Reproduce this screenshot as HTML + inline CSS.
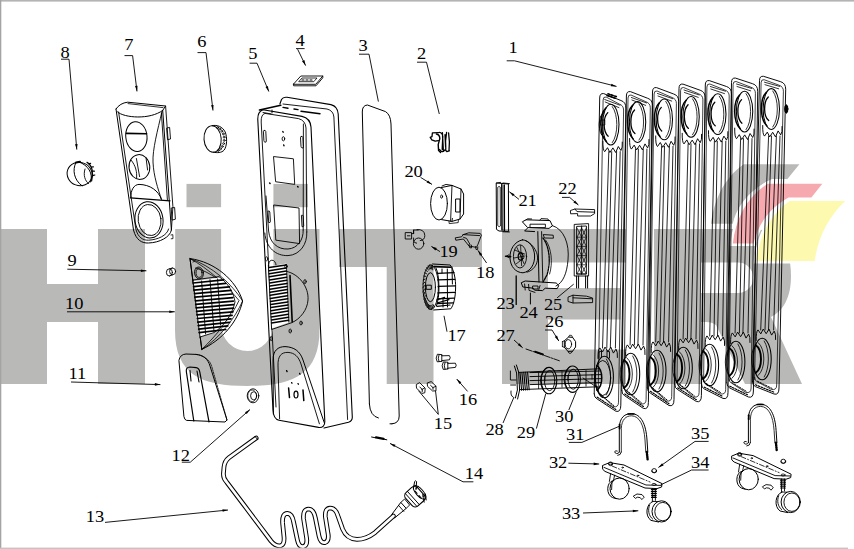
<!DOCTYPE html>
<html><head><meta charset="utf-8"><title>Exploded view</title>
<style>
html,body{margin:0;padding:0;background:#fff;}
body{width:854px;height:549px;overflow:hidden;font-family:"Liberation Serif",serif;}
svg{display:block;}
</style></head><body>
<svg width="854" height="549" viewBox="0 0 854 549">
<rect x="0" y="0" width="854" height="549" fill="#fff"/>
<g id="wm"><path d="M0,229 H47 V284 H98 V229 H145 V384 H98 V322 H47 V384 H0 Z" fill="#b9b9b8"/>
<rect x="186.5" y="183.9" width="34.6" height="23.3" fill="#b9b9b8"/>
<rect x="273.4" y="183.9" width="34.6" height="23.3" fill="#b9b9b8"/>
<path d="M175.2,229 H221.1 V324.85 A26.15,26.15 0 0 0 273.4,324.85 V229 H319.5 V330 C319.5,375 292,386 247.25,386 C202,386 175,375 175,330 Z" fill="#b9b9b8"/>
<path d="M339,229 H482 V267 H433.5 V384 H386.7 V267 H339 Z" fill="#b9b9b8"/>
<path d="M502,229 H626 V262.5 H548 V288 H620.5 V319.5 H548 V349.5 H626 V384 H502 Z" fill="#b9b9b8"/>
<path d="M654,229 H752 C778,229 791,246 791,276 C791,298 783,311 771,317 L802,384 H745 L716,325 Q712,322 706,322 H701 V384 H654 Z M701,262.5 H738 A15.25,15.25 0 0 1 738,293 H701 Z" fill="#b9b9b8" fill-rule="evenodd"/>
<path d="M743.7,164.2 H799.4 L787.4,179 H772 C748,190 736,208 732.8,223.8 H711 C714,200 724,178 743.7,164.2 Z" fill="#b9b9b8"/>
<path d="M767.7,183.8 H822.3 L811.4,197.6 H788.5 C770,208 758,224 753.5,243.5 H732.8 C736,217 748,196 767.7,183.8 Z" fill="#f6aaaf" stroke="#fff" stroke-width="5" paint-order="stroke"/>
<path d="M789.6,200.9 H845.3 C828,217 818,238 814.7,261 H756.4 C759,236 770,215 789.6,200.9 Z" fill="#fdfab0" stroke="#fff" stroke-width="5" paint-order="stroke"/></g>
<g id="art" stroke-linecap="round" stroke-linejoin="round"><path d="M594.1999999999999,393.8 L599.7,98 Q599.7,93 603.7,93.6 L620.9000000000001,100.5 Q625.9000000000001,102.0 625.9000000000001,108.0 L620.8,405.2 Q620.8,412.7 615.8,411.2 L597.1999999999999,399.0 Q594.1999999999999,397.8 594.1999999999999,393.8" fill="none" stroke="#000" stroke-width="0.95" />
<path d="M598.1999999999999,391.8 L603.1,100 Q603.1,96.5 606.1,97 L619.2,104.0 Q623.6,105.5 623.6,110.0 L618.4999999999999,402.2 Q618.4999999999999,407.8 613.0999999999999,406.59999999999997 L601.1999999999999,394.40000000000003 Q598.1999999999999,393.40000000000003 598.1999999999999,389.8" fill="none" stroke="#000" stroke-width="0.75" />
<path d="M597.1999999999999,397.2 L615.8,409.4" fill="none" stroke="#000" stroke-width="1.2" stroke-dasharray="1.6 1.4"/>
<path d="M599.1999999999999,393.6 L613.8,405.59999999999997" fill="none" stroke="#000" stroke-width="1.0" stroke-dasharray="1.6 1.4"/>
<path d="M604.7,99.5 L619.9000000000001,105.2" fill="none" stroke="#000" stroke-width="0.8" />
<path d="M605.2,102 L618.9000000000001,107.6" fill="none" stroke="#000" stroke-width="0.8" />
<ellipse cx="610.8" cy="124.6" rx="8.2" ry="20.4" fill="none" stroke="#000" stroke-width="1.05"/>
<path d="M612.3,106.6 C618.4,114.6 618.4,134.6 612.3,142.6" fill="none" stroke="#000" stroke-width="0.8" />
<path d="M605.8,108.0 C599.1999999999999,114.6 599.1999999999999,134.6 606.4,141.6" fill="none" stroke="#000" stroke-width="1.5" />
<path d="M607.8,112.6 C602.8,117.6 602.8,131.6 608.1999999999999,136.2" fill="none" stroke="#000" stroke-width="1.3" />
<path d="M602.9000000000001,141.1 Q602.7,150.1 604.7,151.7 L607.5000000000001,147.7 L609.9000000000001,152.5 L612.9000000000001,147.9 L615.7,152.5 L618.3000000000001,146.5 L620.9000000000001,150.5 Q622.7,148.1 622.3000000000001,142.1" fill="none" stroke="#000" stroke-width="0.95" />
<ellipse cx="604.4" cy="377.0" rx="9.0" ry="20.8" fill="none" stroke="#000" stroke-width="1.05"/>
<path d="M606.4,359.0 C612.0,368.0 612.0,386.0 606.4,395.0" fill="none" stroke="#000" stroke-width="0.8" />
<path d="M598.0,358.5 Q597.8,349.5 599.8,347.9 L602.6,351.9 L605.0,347.1 L608.0,351.7 L610.8,347.1 L613.4,353.1 L616.0,349.1 Q617.8,351.5 617.4,357.5" fill="none" stroke="#000" stroke-width="0.95" />
<path d="M608.8,151.6 L602.5,348.0" fill="none" stroke="#000" stroke-width="0.85" />
<path d="M611.7,151.6 L606.8,348.0" fill="none" stroke="#000" stroke-width="0.85" />
<path d="M616.6,151.6 L610.3,348.0" fill="none" stroke="#000" stroke-width="0.85" />
<path d="M620.2,151.6 L615.4,348.0" fill="none" stroke="#000" stroke-width="0.85" />
<path d="M621.8,390.59999999999997 L626.4,96 Q626.4,91 630.4,91.6 L647.6,98.25 Q652.6,99.75 652.6,105.75 L648.4,402.4 Q648.4,409.9 643.4,408.4 L624.8,395.79999999999995 Q621.8,394.59999999999997 621.8,390.59999999999997" fill="none" stroke="#000" stroke-width="0.95" />
<path d="M624.0,388.59999999999997 L628.0,98 Q628.0,94.5 631.0,95 L645.9,101.75 Q650.3,103.25 650.3,107.75 L646.0999999999999,399.4 Q646.0999999999999,405.0 640.6999999999999,403.79999999999995 L627.0,391.2 Q624.0,390.2 624.0,386.59999999999997" fill="none" stroke="#000" stroke-width="0.75" />
<path d="M624.8,393.99999999999994 L643.4,406.59999999999997" fill="none" stroke="#000" stroke-width="1.2" stroke-dasharray="1.6 1.4"/>
<path d="M626.8,390.4 L641.4,402.79999999999995" fill="none" stroke="#000" stroke-width="1.0" stroke-dasharray="1.6 1.4"/>
<path d="M631.4,97.5 L646.6,102.95" fill="none" stroke="#000" stroke-width="0.8" />
<path d="M631.9,100 L645.6,105.35" fill="none" stroke="#000" stroke-width="0.8" />
<ellipse cx="637.55" cy="122.0" rx="8.2" ry="20.4" fill="none" stroke="#000" stroke-width="1.05"/>
<path d="M639.05,104.0 C645.15,112.0 645.15,132.0 639.05,140.0" fill="none" stroke="#000" stroke-width="0.8" />
<path d="M632.55,105.4 C625.9499999999999,112.0 625.9499999999999,132.0 633.15,139.0" fill="none" stroke="#000" stroke-width="1.5" />
<path d="M634.55,110.0 C629.55,115.0 629.55,129.0 634.9499999999999,133.6" fill="none" stroke="#000" stroke-width="1.3" />
<path d="M629.6,138.5 Q629.4,147.5 631.4,149.1 L634.2,145.1 L636.6,149.9 L639.6,145.3 L642.4,149.9 L645.0,143.9 L647.6,147.9 Q649.4,145.5 649.0,139.5" fill="none" stroke="#000" stroke-width="0.95" />
<ellipse cx="630.6999999999999" cy="374.0" rx="9.0" ry="20.8" fill="none" stroke="#000" stroke-width="1.05"/>
<path d="M632.6999999999999,356.0 C638.3,365.0 638.3,383.0 632.6999999999999,392.0" fill="none" stroke="#000" stroke-width="0.8" />
<path d="M624.0999999999999,360.0 C631.3,365.0 631.3,383.0 624.0999999999999,388.0" fill="none" stroke="#000" stroke-width="1.9" />
<path d="M624.0999999999999,360.0 C618.6999999999999,365.0 618.6999999999999,383.0 624.0999999999999,388.0" fill="none" stroke="#000" stroke-width="0.8" />
<path d="M626.6999999999999,357.6 C634.3,364.0 634.3,384.0 626.6999999999999,390.4" fill="none" stroke="#000" stroke-width="0.8" />
<path d="M625.6,355.5 Q625.4,346.5 627.4,344.9 L630.2,348.9 L632.6,344.1 L635.6,348.7 L638.4,344.1 L641.0,350.1 L643.6,346.1 Q645.4,348.5 645.0,354.5" fill="none" stroke="#000" stroke-width="0.95" />
<path d="M635.5,149.0 L630.1,345.0" fill="none" stroke="#000" stroke-width="0.85" />
<path d="M638.4,149.0 L634.4,345.0" fill="none" stroke="#000" stroke-width="0.85" />
<path d="M643.3,149.0 L637.9,345.0" fill="none" stroke="#000" stroke-width="0.85" />
<path d="M646.9,149.0 L643.0,345.0" fill="none" stroke="#000" stroke-width="0.85" />
<path d="M647.4,387.9 L652.5,92 Q652.5,87 656.5,87.6 L673.7,94.0 Q678.7,95.5 678.7,101.5 L674.0,399.5 Q674.0,407.0 669,405.5 L650.4,393.09999999999997 Q647.4,391.9 647.4,387.9" fill="none" stroke="#000" stroke-width="0.95" />
<path d="M649.6,385.9 L654.1,94 Q654.1,90.5 657.1,91 L672.0,97.5 Q676.4,99.0 676.4,103.5 L671.6999999999999,396.5 Q671.6999999999999,402.1 666.3,400.9 L652.6,388.5 Q649.6,387.5 649.6,383.9" fill="none" stroke="#000" stroke-width="0.75" />
<path d="M650.4,391.29999999999995 L669,403.7" fill="none" stroke="#000" stroke-width="1.2" stroke-dasharray="1.6 1.4"/>
<path d="M652.4,387.7 L667,399.9" fill="none" stroke="#000" stroke-width="1.0" stroke-dasharray="1.6 1.4"/>
<path d="M657.5,93.5 L672.7,98.7" fill="none" stroke="#000" stroke-width="0.8" />
<path d="M658.0,96 L671.7,101.1" fill="none" stroke="#000" stroke-width="0.8" />
<ellipse cx="664.3" cy="119.39999999999999" rx="8.2" ry="20.4" fill="none" stroke="#000" stroke-width="1.05"/>
<path d="M665.8,101.39999999999999 C671.9,109.39999999999999 671.9,129.39999999999998 665.8,137.39999999999998" fill="none" stroke="#000" stroke-width="0.8" />
<path d="M659.3,102.79999999999998 C652.6999999999999,109.39999999999999 652.6999999999999,129.39999999999998 659.9,136.39999999999998" fill="none" stroke="#000" stroke-width="1.5" />
<path d="M661.3,107.39999999999999 C656.3,112.39999999999999 656.3,126.39999999999999 661.6999999999999,131.0" fill="none" stroke="#000" stroke-width="1.3" />
<path d="M655.7,135.89999999999998 Q655.5,144.89999999999998 657.5,146.49999999999997 L660.3000000000001,142.49999999999997 L662.7,147.29999999999998 L665.7,142.7 L668.5,147.29999999999998 L671.1,141.29999999999998 L673.7,145.29999999999998 Q675.5,142.89999999999998 675.1,136.89999999999998" fill="none" stroke="#000" stroke-width="0.95" />
<ellipse cx="657.0" cy="371.0" rx="9.0" ry="20.8" fill="none" stroke="#000" stroke-width="1.05"/>
<path d="M659.0,353.0 C664.6,362.0 664.6,380.0 659.0,389.0" fill="none" stroke="#000" stroke-width="0.8" />
<path d="M650.4,357.0 C657.6,362.0 657.6,380.0 650.4,385.0" fill="none" stroke="#000" stroke-width="1.9" />
<path d="M650.4,357.0 C645.0,362.0 645.0,380.0 650.4,385.0" fill="none" stroke="#000" stroke-width="0.8" />
<path d="M653.0,354.6 C660.6,361.0 660.6,381.0 653.0,387.4" fill="none" stroke="#000" stroke-width="0.8" />
<path d="M651.2,352.5 Q651.0,343.5 653.0,341.9 L655.8000000000001,345.9 L658.2,341.1 L661.2,345.7 L664.0,341.1 L666.6,347.1 L669.2,343.1 Q671.0,345.5 670.6,351.5" fill="none" stroke="#000" stroke-width="0.95" />
<path d="M661.6,146.4 L655.7,342.0" fill="none" stroke="#000" stroke-width="0.85" />
<path d="M664.5,146.4 L660.0,342.0" fill="none" stroke="#000" stroke-width="0.85" />
<path d="M669.4,146.4 L663.5,342.0" fill="none" stroke="#000" stroke-width="0.85" />
<path d="M673.0,146.4 L668.6,342.0" fill="none" stroke="#000" stroke-width="0.85" />
<path d="M674.8,384.5 L679,88.5 Q679,83.5 683,84.1 L700.2,90.25 Q705.2,91.75 705.2,97.75 L701.4,395.5 Q701.4,403.0 696.4,401.5 L677.8,389.7 Q674.8,388.5 674.8,384.5" fill="none" stroke="#000" stroke-width="0.95" />
<path d="M677.0,382.5 L680.6,90.5 Q680.6,87.0 683.6,87.5 L698.5,93.75 Q702.9,95.25 702.9,99.75 L699.0999999999999,392.5 Q699.0999999999999,398.1 693.6999999999999,396.9 L680.0,385.1 Q677.0,384.1 677.0,380.5" fill="none" stroke="#000" stroke-width="0.75" />
<path d="M677.8,387.9 L696.4,399.7" fill="none" stroke="#000" stroke-width="1.2" stroke-dasharray="1.6 1.4"/>
<path d="M679.8,384.3 L694.4,395.9" fill="none" stroke="#000" stroke-width="1.0" stroke-dasharray="1.6 1.4"/>
<path d="M684,90.0 L699.2,94.95" fill="none" stroke="#000" stroke-width="0.8" />
<path d="M684.5,92.5 L698.2,97.35" fill="none" stroke="#000" stroke-width="0.8" />
<ellipse cx="691.05" cy="116.8" rx="8.2" ry="20.4" fill="none" stroke="#000" stroke-width="1.05"/>
<path d="M692.55,98.8 C698.65,106.8 698.65,126.8 692.55,134.8" fill="none" stroke="#000" stroke-width="0.8" />
<path d="M686.05,100.19999999999999 C679.4499999999999,106.8 679.4499999999999,126.8 686.65,133.8" fill="none" stroke="#000" stroke-width="1.5" />
<path d="M688.05,104.8 C683.05,109.8 683.05,123.8 688.4499999999999,128.4" fill="none" stroke="#000" stroke-width="1.3" />
<path d="M682.2,133.3 Q682.0,142.3 684.0,143.9 L686.8000000000001,139.9 L689.2,144.70000000000002 L692.2,140.10000000000002 L695.0,144.70000000000002 L697.6,138.70000000000002 L700.2,142.70000000000002 Q702.0,140.3 701.6,134.3" fill="none" stroke="#000" stroke-width="0.95" />
<ellipse cx="683.3" cy="368.0" rx="9.0" ry="20.8" fill="none" stroke="#000" stroke-width="1.05"/>
<path d="M685.3,350.0 C690.9,359.0 690.9,377.0 685.3,386.0" fill="none" stroke="#000" stroke-width="0.8" />
<path d="M676.6999999999999,354.0 C683.9,359.0 683.9,377.0 676.6999999999999,382.0" fill="none" stroke="#000" stroke-width="1.9" />
<path d="M676.6999999999999,354.0 C671.3,359.0 671.3,377.0 676.6999999999999,382.0" fill="none" stroke="#000" stroke-width="0.8" />
<path d="M679.3,351.6 C686.9,358.0 686.9,378.0 679.3,384.4" fill="none" stroke="#000" stroke-width="0.8" />
<path d="M678.6,349.5 Q678.4,340.5 680.4,338.9 L683.2,342.9 L685.6,338.1 L688.6,342.7 L691.4,338.1 L694.0,344.1 L696.6,340.1 Q698.4,342.5 698.0,348.5" fill="none" stroke="#000" stroke-width="0.95" />
<path d="M688.1,143.8 L683.1,339.0" fill="none" stroke="#000" stroke-width="0.85" />
<path d="M691.0,143.8 L687.4,339.0" fill="none" stroke="#000" stroke-width="0.85" />
<path d="M695.9,143.8 L690.9,339.0" fill="none" stroke="#000" stroke-width="0.85" />
<path d="M699.5,143.8 L696.0,339.0" fill="none" stroke="#000" stroke-width="0.85" />
<path d="M701.4,383.79999999999995 L705.3,85 Q705.3,80 709.3,80.6 L726.5,86.5 Q731.5,88.0 731.5,94.0 L728.0,392.4 Q728.0,399.9 723,398.4 L704.4,388.99999999999994 Q701.4,387.79999999999995 701.4,383.79999999999995" fill="none" stroke="#000" stroke-width="0.95" />
<path d="M703.6,381.79999999999995 L706.9,87 Q706.9,83.5 709.9,84 L724.8,90.0 Q729.1999999999999,91.5 729.1999999999999,96.0 L725.6999999999999,389.4 Q725.6999999999999,395.0 720.3,393.79999999999995 L706.6,384.4 Q703.6,383.4 703.6,379.79999999999995" fill="none" stroke="#000" stroke-width="0.75" />
<path d="M704.4,387.19999999999993 L723,396.59999999999997" fill="none" stroke="#000" stroke-width="1.2" stroke-dasharray="1.6 1.4"/>
<path d="M706.4,383.59999999999997 L721,392.79999999999995" fill="none" stroke="#000" stroke-width="1.0" stroke-dasharray="1.6 1.4"/>
<path d="M710.3,86.5 L725.5,91.2" fill="none" stroke="#000" stroke-width="0.8" />
<path d="M710.8,89 L724.5,93.6" fill="none" stroke="#000" stroke-width="0.8" />
<ellipse cx="717.8" cy="114.19999999999999" rx="8.2" ry="20.4" fill="none" stroke="#000" stroke-width="1.05"/>
<path d="M719.3,96.19999999999999 C725.4,104.19999999999999 725.4,124.19999999999999 719.3,132.2" fill="none" stroke="#000" stroke-width="0.8" />
<path d="M712.8,97.6 C706.1999999999999,104.19999999999999 706.1999999999999,124.19999999999999 713.4,131.2" fill="none" stroke="#000" stroke-width="1.5" />
<path d="M714.8,102.19999999999999 C709.8,107.19999999999999 709.8,121.19999999999999 715.1999999999999,125.79999999999998" fill="none" stroke="#000" stroke-width="1.3" />
<path d="M708.5,130.7 Q708.3,139.7 710.3,141.29999999999998 L713.1,137.29999999999998 L715.5,142.1 L718.5,137.5 L721.3,142.1 L723.9,136.1 L726.5,140.1 Q728.3,137.7 727.9,131.7" fill="none" stroke="#000" stroke-width="0.95" />
<ellipse cx="709.6" cy="365.0" rx="9.0" ry="20.8" fill="none" stroke="#000" stroke-width="1.05"/>
<path d="M711.6,347.0 C717.2,356.0 717.2,374.0 711.6,383.0" fill="none" stroke="#000" stroke-width="0.8" />
<path d="M703.0,351.0 C710.2,356.0 710.2,374.0 703.0,379.0" fill="none" stroke="#000" stroke-width="1.9" />
<path d="M703.0,351.0 C697.6,356.0 697.6,374.0 703.0,379.0" fill="none" stroke="#000" stroke-width="0.8" />
<path d="M705.6,348.6 C713.2,355.0 713.2,375.0 705.6,381.4" fill="none" stroke="#000" stroke-width="0.8" />
<path d="M705.2,346.5 Q705.0,337.5 707.0,335.9 L709.8000000000001,339.9 L712.2,335.1 L715.2,339.7 L718.0,335.1 L720.6,341.1 L723.2,337.1 Q725.0,339.5 724.6,345.5" fill="none" stroke="#000" stroke-width="0.95" />
<path d="M714.4,141.2 L709.7,336.0" fill="none" stroke="#000" stroke-width="0.85" />
<path d="M717.3,141.2 L714.0,336.0" fill="none" stroke="#000" stroke-width="0.85" />
<path d="M722.2,141.2 L717.5,336.0" fill="none" stroke="#000" stroke-width="0.85" />
<path d="M725.8,141.2 L722.6,336.0" fill="none" stroke="#000" stroke-width="0.85" />
<path d="M726.8,382.8 L731.5,82.5 Q731.5,77.5 735.5,78.1 L752.7,83.75 Q757.7,85.25 757.7,91.25 L753.4,391 Q753.4,398.5 748.4,397 L729.8,388.0 Q726.8,386.8 726.8,382.8" fill="none" stroke="#000" stroke-width="0.95" />
<path d="M729.0,380.8 L733.1,84.5 Q733.1,81.0 736.1,81.5 L751.0,87.25 Q755.4,88.75 755.4,93.25 L751.0999999999999,388 Q751.0999999999999,393.6 745.6999999999999,392.4 L732.0,383.40000000000003 Q729.0,382.40000000000003 729.0,378.8" fill="none" stroke="#000" stroke-width="0.75" />
<path d="M729.8,386.2 L748.4,395.2" fill="none" stroke="#000" stroke-width="1.2" stroke-dasharray="1.6 1.4"/>
<path d="M731.8,382.6 L746.4,391.4" fill="none" stroke="#000" stroke-width="1.0" stroke-dasharray="1.6 1.4"/>
<path d="M736.5,84.0 L751.7,88.45" fill="none" stroke="#000" stroke-width="0.8" />
<path d="M737.0,86.5 L750.7,90.85" fill="none" stroke="#000" stroke-width="0.8" />
<ellipse cx="744.55" cy="111.6" rx="8.2" ry="20.4" fill="none" stroke="#000" stroke-width="1.05"/>
<path d="M746.05,93.6 C752.15,101.6 752.15,121.6 746.05,129.6" fill="none" stroke="#000" stroke-width="0.8" />
<path d="M739.55,95.0 C732.9499999999999,101.6 732.9499999999999,121.6 740.15,128.6" fill="none" stroke="#000" stroke-width="1.5" />
<path d="M741.55,99.6 C736.55,104.6 736.55,118.6 741.9499999999999,123.19999999999999" fill="none" stroke="#000" stroke-width="1.3" />
<path d="M734.7,128.1 Q734.5,137.1 736.5,138.7 L739.3000000000001,134.7 L741.7,139.5 L744.7,134.9 L747.5,139.5 L750.1,133.5 L752.7,137.5 Q754.5,135.1 754.1,129.1" fill="none" stroke="#000" stroke-width="0.95" />
<ellipse cx="735.9" cy="362.0" rx="9.0" ry="20.8" fill="none" stroke="#000" stroke-width="1.05"/>
<path d="M737.9,344.0 C743.5,353.0 743.5,371.0 737.9,380.0" fill="none" stroke="#000" stroke-width="0.8" />
<path d="M729.3,348.0 C736.5,353.0 736.5,371.0 729.3,376.0" fill="none" stroke="#000" stroke-width="1.9" />
<path d="M729.3,348.0 C723.9,353.0 723.9,371.0 729.3,376.0" fill="none" stroke="#000" stroke-width="0.8" />
<path d="M731.9,345.6 C739.5,352.0 739.5,372.0 731.9,378.4" fill="none" stroke="#000" stroke-width="0.8" />
<path d="M730.6,343.5 Q730.4,334.5 732.4,332.9 L735.2,336.9 L737.6,332.1 L740.6,336.7 L743.4,332.1 L746.0,338.1 L748.6,334.1 Q750.4,336.5 750.0,342.5" fill="none" stroke="#000" stroke-width="0.95" />
<path d="M740.6,138.6 L735.1,333.0" fill="none" stroke="#000" stroke-width="0.85" />
<path d="M743.5,138.6 L739.4,333.0" fill="none" stroke="#000" stroke-width="0.85" />
<path d="M748.4,138.6 L742.9,333.0" fill="none" stroke="#000" stroke-width="0.85" />
<path d="M752.0,138.6 L748.0,333.0" fill="none" stroke="#000" stroke-width="0.85" />
<path d="M752.4,381.4 L759.5,80.7 Q759.5,75.7 763.5,76.3 L780.7,81.7 Q785.7,83.2 785.7,89.2 L779.0,388 Q779.0,395.5 774,394 L755.4,386.59999999999997 Q752.4,385.4 752.4,381.4" fill="none" stroke="#000" stroke-width="0.95" />
<path d="M754.6,379.4 L761.1,82.7 Q761.1,79.2 764.1,79.7 L779.0,85.2 Q783.4,86.7 783.4,91.2 L776.6999999999999,385 Q776.6999999999999,390.6 771.3,389.4 L757.6,382.0 Q754.6,381.0 754.6,377.4" fill="none" stroke="#000" stroke-width="0.75" />
<path d="M755.4,384.79999999999995 L774,392.2" fill="none" stroke="#000" stroke-width="1.2" stroke-dasharray="1.6 1.4"/>
<path d="M757.4,381.2 L772,388.4" fill="none" stroke="#000" stroke-width="1.0" stroke-dasharray="1.6 1.4"/>
<path d="M764.5,82.2 L779.7,86.4" fill="none" stroke="#000" stroke-width="0.8" />
<path d="M765.0,84.7 L778.7,88.8" fill="none" stroke="#000" stroke-width="0.8" />
<ellipse cx="771.3" cy="109.0" rx="8.2" ry="20.4" fill="none" stroke="#000" stroke-width="1.05"/>
<path d="M772.8,91.0 C778.9,99.0 778.9,119.0 772.8,127.0" fill="none" stroke="#000" stroke-width="0.8" />
<path d="M766.3,92.4 C759.6999999999999,99.0 759.6999999999999,119.0 766.9,126.0" fill="none" stroke="#000" stroke-width="1.5" />
<path d="M768.3,97.0 C763.3,102.0 763.3,116.0 768.6999999999999,120.6" fill="none" stroke="#000" stroke-width="1.3" />
<path d="M762.7,125.5 Q762.5,134.5 764.5,136.1 L767.3000000000001,132.1 L769.7,136.9 L772.7,132.3 L775.5,136.9 L778.1,130.9 L780.7,134.9 Q782.5,132.5 782.1,126.5" fill="none" stroke="#000" stroke-width="0.95" />
<ellipse cx="762.2" cy="359.0" rx="9.0" ry="20.8" fill="none" stroke="#000" stroke-width="1.05"/>
<path d="M764.2,341.0 C769.8000000000001,350.0 769.8000000000001,368.0 764.2,377.0" fill="none" stroke="#000" stroke-width="0.8" />
<path d="M755.6,345.0 C762.8000000000001,350.0 762.8000000000001,368.0 755.6,373.0" fill="none" stroke="#000" stroke-width="1.9" />
<path d="M755.6,345.0 C750.2,350.0 750.2,368.0 755.6,373.0" fill="none" stroke="#000" stroke-width="0.8" />
<path d="M758.2,342.6 C765.8000000000001,349.0 765.8000000000001,369.0 758.2,375.4" fill="none" stroke="#000" stroke-width="0.8" />
<path d="M756.2,340.5 Q756.0,331.5 758.0,329.9 L760.8000000000001,333.9 L763.2,329.1 L766.2,333.7 L769.0,329.1 L771.6,335.1 L774.2,331.1 Q776.0,333.5 775.6,339.5" fill="none" stroke="#000" stroke-width="0.95" />
<path d="M768.6,136.0 L760.7,330.0" fill="none" stroke="#000" stroke-width="0.85" />
<path d="M771.5,136.0 L765.0,330.0" fill="none" stroke="#000" stroke-width="0.85" />
<path d="M776.4,136.0 L768.5,330.0" fill="none" stroke="#000" stroke-width="0.85" />
<path d="M780.0,136.0 L773.6,330.0" fill="none" stroke="#000" stroke-width="0.85" />
<ellipse cx="786.3" cy="109" rx="1.6" ry="4.2" fill="#000" stroke="#000" stroke-width="1"/>
<path d="M603.6,113 C597.6,115 597.6,134 603.6,137" fill="none" stroke="#000" stroke-width="1.0" />
<path d="M600.8,120 h4 v5 h-4 z" fill="none" stroke="#000" stroke-width="0.8" />
<path d="M607,95.5 l9,3 M608,93.8 l9,3" fill="none" stroke="#000" stroke-width="1.6" stroke-dasharray="2 1.4"/>
<path d="M599,352 v6 M601.5,351 v6 M607,351 v6 M609.5,352 v6 M599,352 l2.5,-1 M607,351 l2.5,1" fill="none" stroke="#000" stroke-width="0.9" />
<path d="M273,410 L257.8,120 Q257.4,111.8 263,109.8 L302,116.4 Q310.4,118.4 311,127 L324.8,421 Q325,428 318.6,427.4 L279,420.2 Q273.4,419 273,410 Z" fill="none" stroke="#000" stroke-width="1.1" />
<path d="M276,407 L261.2,122 Q260.9,114.5 265,113.4 L298.5,118.6 Q305.5,120.5 306,128 L306.8,232" fill="none" stroke="#000" stroke-width="0.9" />
<path d="M303.4,124 L303.2,230" fill="none" stroke="#000" stroke-width="0.9" />
<path d="M279.9,104 L281.5,99.5 Q283,96.8 287,97.3 L330.9,104.6 Q337.8,106.5 338.2,114 L352.3,417 Q352.4,421 348.5,422.2 L324,428" fill="none" stroke="#000" stroke-width="1.1" />
<path d="M283,104 L327,109 Q333.4,110.6 333.9,117 L347.6,419.5" fill="none" stroke="#000" stroke-width="0.9" />
<path d="M259.5,110 L280.8,105.2" fill="none" stroke="#000" stroke-width="1.6" />
<path d="M283,107.4 l5,0.8 M294,109 l4,0.6 M301,111.3 l19,2.4" fill="none" stroke="#000" stroke-width="1.4" />
<path d="M263,112.5 l8,1.4 M272,110 l0,3" fill="none" stroke="#000" stroke-width="0.9" />
<path d="M264.2,130.5 q1.4,-0.6 1.6,1 l0.5,9.5 q0,1.6 -1.4,1.2 q-0.9,-0.4 -1,-1.6 l-0.5,-9 q0,-0.9 0.8,-1.1 z" fill="none" stroke="#000" stroke-width="0.9" />
<path d="M301.2,136.5 q1.5,-0.6 1.7,1 l0.5,9.3 q0,1.6 -1.4,1.2 q-0.9,-0.4 -1,-1.6 l-0.5,-8.8 q0,-0.9 0.7,-1.1 z" fill="none" stroke="#000" stroke-width="0.9" />
<ellipse cx="283.4" cy="138.8" rx="1.3" ry="2.1" fill="none" stroke="#000" stroke-width="0.9"/>
<path d="M282.8,131.6 l0.4,0.6 M283.7,145 l0.3,0.8" fill="none" stroke="#000" stroke-width="1.4" />
<path d="M273.9,156.6 L293.4,158.8 L294.7,184.4 L276,181.8 Z" fill="none" stroke="#000" stroke-width="0.9" />
<path d="M269.6,183 l0.5,0.5 M297.6,186.5 l0.5,0.5" fill="none" stroke="#000" stroke-width="1.4" />
<path d="M274,205 L299,208 L299.6,243.6 L276.2,240.2 Z" fill="none" stroke="#000" stroke-width="0.9" />
<path d="M264.8,233 C266,248 276,256 288,255.6 C300,255 307.5,244 306.8,232" fill="none" stroke="#000" stroke-width="0.9" />
<path d="M266,196 L268.6,231 C269.8,243 277.8,249.6 288,249 C297.5,248.4 303.6,240 303.2,230" fill="none" stroke="#000" stroke-width="0.9" />
<path d="M268.3,211 q1.4,-0.4 1.5,1 l0.6,9.6 q0,1.4 -1.3,1 z M301.8,215.2 q1.3,-0.4 1.4,1 l0.5,9.6 q0,1.3 -1.3,1 z" fill="none" stroke="#000" stroke-width="0.9" />
<path d="M268.6,267 q-0.4,-6.5 3.2,-6.8 q3.8,0 4.4,5.6" fill="none" stroke="#000" stroke-width="0.9" />
<path d="M268.8,266.4 L286.2,263.6 L288.6,322.4 L271.6,328.6 Z" fill="#fff"/>
<path d="M269.0,267.6 l17,-2.7" fill="none" stroke="#000" stroke-width="1.55" />
<path d="M269.1,270.7 l17,-2.7" fill="none" stroke="#000" stroke-width="1.55" />
<path d="M269.3,273.8 l17,-2.7" fill="none" stroke="#000" stroke-width="1.55" />
<path d="M269.4,276.8 l17,-2.7" fill="none" stroke="#000" stroke-width="1.55" />
<path d="M269.6,279.9 l17,-2.7" fill="none" stroke="#000" stroke-width="1.55" />
<path d="M269.7,283.0 l17,-2.7" fill="none" stroke="#000" stroke-width="1.55" />
<path d="M269.9,286.1 l17,-2.7" fill="none" stroke="#000" stroke-width="1.55" />
<path d="M270.0,289.2 l17,-2.7" fill="none" stroke="#000" stroke-width="1.55" />
<path d="M270.2,292.2 l17,-2.7" fill="none" stroke="#000" stroke-width="1.55" />
<path d="M270.3,295.3 l17,-2.7" fill="none" stroke="#000" stroke-width="1.55" />
<path d="M270.4,298.4 l17,-2.7" fill="none" stroke="#000" stroke-width="1.55" />
<path d="M270.6,301.5 l17,-2.7" fill="none" stroke="#000" stroke-width="1.55" />
<path d="M270.7,304.6 l17,-2.7" fill="none" stroke="#000" stroke-width="1.55" />
<path d="M270.9,307.6 l17,-2.7" fill="none" stroke="#000" stroke-width="1.55" />
<path d="M271.0,310.7 l17,-2.7" fill="none" stroke="#000" stroke-width="1.55" />
<path d="M271.2,313.8 l17,-2.7" fill="none" stroke="#000" stroke-width="1.55" />
<path d="M271.3,316.9 l17,-2.7" fill="none" stroke="#000" stroke-width="1.55" />
<path d="M271.5,320.0 l17,-2.7" fill="none" stroke="#000" stroke-width="1.55" />
<path d="M271.6,323.0 l17,-2.7" fill="none" stroke="#000" stroke-width="1.55" />
<path d="M268.4,265.4 L271.6,329.5 L292,322.6" fill="none" stroke="#000" stroke-width="0.9" />
<path d="M286.4,264.6 L288.8,322" fill="none" stroke="#000" stroke-width="0.8" />
<path d="M290,275.6 L292.2,321.6" fill="none" stroke="#000" stroke-width="1.6" />
<path d="M286.6,271.4 C299,274 309,287 308,300 C307.4,310 300,319 292.4,322.4" fill="none" stroke="#000" stroke-width="0.9" />
<ellipse cx="286" cy="266.4" rx="1.2" ry="2.0" fill="none" stroke="#000" stroke-width="0.9"/>
<ellipse cx="305" cy="281.6" rx="1.2" ry="2.0" fill="none" stroke="#000" stroke-width="0.9"/>
<ellipse cx="266.6" cy="258.8" rx="1.2" ry="2.0" fill="none" stroke="#000" stroke-width="0.9"/>
<ellipse cx="271.2" cy="338.6" rx="1.2" ry="2.0" fill="none" stroke="#000" stroke-width="0.9"/>
<ellipse cx="290.2" cy="331" rx="1.2" ry="2.0" fill="none" stroke="#000" stroke-width="0.9"/>
<ellipse cx="301" cy="323" rx="1.2" ry="2.0" fill="none" stroke="#000" stroke-width="0.9"/>
<path d="M273.4,414 L273,360 C273,350.5 278,346.6 285,346.6 C294,347 300,351 303,360 L324.2,422.5" fill="none" stroke="#000" stroke-width="1.0" />
<path d="M279.6,419 L278,366 C277.6,355.6 281.6,352.2 288,352.4 C294.6,352.8 298.6,356.6 301,364 L319.4,423.8" fill="none" stroke="#000" stroke-width="0.9" />
<path d="M288.6,388 l0.9,9.6 M303,390 l0.8,10.6" fill="none" stroke="#000" stroke-width="1.5" />
<ellipse cx="296" cy="394.6" rx="2.0" ry="3.4" fill="none" stroke="#000" stroke-width="1.2"/>
<path d="M286.6,370.6 l0.5,1 M299.6,373.4 l0.4,0.8 M291.6,382.6 l0.4,0.6 M298,383.6 l0.4,0.6" fill="none" stroke="#000" stroke-width="1.3" />
<path d="M369.4,404 L362.3,112 Q362.2,105.4 367.4,105 L385.5,111.6 Q390.6,114.6 391,124 L399.2,416 Q399.2,423.4 392,423.8" fill="none" stroke="#000" stroke-width="1.0" />
<path d="M369.4,404 Q370,416 378.4,418" fill="none" stroke="#000" stroke-width="1.0" />
<path d="M390,423.8 l2,0" fill="none" stroke="#000" stroke-width="1.0" />
<path d="M293.6,84 L300.8,76 L322.8,76 L316,84 Z" fill="none" stroke="#000" stroke-width="0.9" />
<path d="M293.6,84 v1.8 h22.4 l6.8,-8 v-1.8" fill="none" stroke="#000" stroke-width="0.9" />
<path d="M299,81.4 l3,-3.4 h15 l-3,3.4 z" fill="none" stroke="#000" stroke-width="0.8" />
<path d="M302,80 h2 M306,80 h2 M310,80 h2" fill="none" stroke="#000" stroke-width="1.2" />
<ellipse cx="212.6" cy="139" rx="8.6" ry="13.3" fill="none" stroke="#000" stroke-width="1.0" transform="rotate(-4 212.6 139)"/>
<path d="M212.4,125.6 C217,124.6 222.6,126.6 225.2,132 C227.4,137.6 227,146 224.2,150 C221.6,153 217,153 213.6,152.2" fill="none" stroke="#000" stroke-width="1.0" />
<ellipse cx="217.6" cy="127.6" rx="0.9" ry="1.0" fill="none" stroke="#000" stroke-width="0.8"/>
<ellipse cx="219.9" cy="129.0" rx="0.9" ry="1.0" fill="none" stroke="#000" stroke-width="0.8"/>
<ellipse cx="221.8" cy="131.2" rx="0.9" ry="1.0" fill="none" stroke="#000" stroke-width="0.8"/>
<ellipse cx="223.3" cy="133.9" rx="0.9" ry="1.0" fill="none" stroke="#000" stroke-width="0.8"/>
<ellipse cx="224.1" cy="137.1" rx="0.9" ry="1.0" fill="none" stroke="#000" stroke-width="0.8"/>
<ellipse cx="224.2" cy="140.4" rx="0.9" ry="1.0" fill="none" stroke="#000" stroke-width="0.8"/>
<ellipse cx="223.6" cy="143.6" rx="0.9" ry="1.0" fill="none" stroke="#000" stroke-width="0.8"/>
<ellipse cx="222.3" cy="146.5" rx="0.9" ry="1.0" fill="none" stroke="#000" stroke-width="0.8"/>
<ellipse cx="220.5" cy="148.8" rx="0.9" ry="1.0" fill="none" stroke="#000" stroke-width="0.8"/>
<ellipse cx="218.3" cy="150.5" rx="0.9" ry="1.0" fill="none" stroke="#000" stroke-width="0.8"/>
<ellipse cx="79.6" cy="174" rx="12.6" ry="11.6" fill="none" stroke="#000" stroke-width="1.0" transform="rotate(20 79.6 174)"/>
<path d="M76,162.4 C72,170 74,180 82,185.8" fill="none" stroke="#000" stroke-width="1.0" />
<path d="M79,162 C88,165 93.6,173.6 90.6,182" fill="none" stroke="#000" stroke-width="1.0" />
<path d="M85,169 C83,175 85,181 88.6,183.6" fill="none" stroke="#000" stroke-width="0.9" />
<path d="M88.4,163.8 l2.2,-0.4 M91,167 l2.4,-0.2 M92.4,171.2 l2,0 M92.8,175.6 l2,-0.6 M87,162.4 C92,165 94,173 91.6,181" fill="none" stroke="#000" stroke-width="1.2" />
<path d="M76,162.6 l4,-0.8" fill="none" stroke="#000" stroke-width="2.0" />
<path d="M116,109 Q120,103 127.7,102.2 L165.6,106 L162.7,110.4" fill="none" stroke="#000" stroke-width="1.0" />
<path d="M128,103.6 L163,107.6" fill="none" stroke="#000" stroke-width="0.8" />
<path d="M117.5,111.9 C124,118 150,120 162.7,110.4" fill="none" stroke="#000" stroke-width="1.0" />
<path d="M116,109 L133.5,230 C136,240 142,243.4 148.4,243 C160,242.6 170,237 171.4,230 L162.7,110.4" fill="none" stroke="#000" stroke-width="1.0" />
<path d="M118.6,112 L135.8,229 C138,237.6 143,240.4 148.6,240.2 C158,239.6 167,235.6 168.6,229" fill="none" stroke="#000" stroke-width="0.9" />
<path d="M165.6,106 L172.9,206.6 L171.4,230" fill="none" stroke="#000" stroke-width="0.9" />
<path d="M161.4,113 L167.4,200" fill="none" stroke="#000" stroke-width="0.9" />
<path d="M162,111.6 C157.6,130 152.4,150 153,162 C153.6,176 158,189 161.4,199" fill="none" stroke="#000" stroke-width="0.9" />
<path d="M167,128 l2.6,-0.6 l0.9,11.6 l-2.6,0.6 z" fill="none" stroke="#000" stroke-width="0.9" />
<path d="M171.6,208 l3,-0.6 l0.8,11.8 l-3,0.8 z" fill="none" stroke="#000" stroke-width="0.9" />
<path d="M171,235 l1.8,-0.4 l0.2,4 l-1.8,0.2" fill="none" stroke="#000" stroke-width="0.8" />
<ellipse cx="136.4" cy="136.6" rx="10.6" ry="15" fill="none" stroke="#000" stroke-width="1.0" transform="rotate(-6 136.4 136.6)"/>
<path d="M126.4,133.4 L146.6,133.8" fill="none" stroke="#000" stroke-width="1.6" />
<ellipse cx="139.4" cy="167" rx="10.4" ry="12.4" fill="none" stroke="#000" stroke-width="1.0" transform="rotate(-6 139.4 167)"/>
<path d="M131,160 C136,166 137,172 136.6,178 M136.4,158.5 L139.6,176.6 M146,157.6 L147.6,170" fill="none" stroke="#000" stroke-width="0.9" />
<path d="M130.8,197.6 C130.6,190 134,184.6 139,184.4 C150,184.6 158.6,190.6 161.4,199.4" fill="none" stroke="#000" stroke-width="1.0" />
<path d="M130.4,197.8 L170,200.8" fill="none" stroke="#000" stroke-width="1.3" />
<ellipse cx="149" cy="219.8" rx="14" ry="18.2" fill="none" stroke="#000" stroke-width="1.0" transform="rotate(-8 149 219.8)"/>
<ellipse cx="149.6" cy="220" rx="11.4" ry="15.6" fill="none" stroke="#000" stroke-width="0.9" transform="rotate(-8 149.6 220)"/>
<ellipse cx="169.4" cy="272.4" rx="3.0" ry="3.6" fill="none" stroke="#000" stroke-width="0.9"/>
<ellipse cx="172.6" cy="271.4" rx="3.0" ry="3.4" fill="none" stroke="#000" stroke-width="0.9"/>
<path d="M169.4,268.8 l3.2,-0.8 M169.4,276 l3.2,-1.2" fill="none" stroke="#000" stroke-width="0.8" />
<path d="M190,258.6 L201.8,349.4 L190,258.6 C215,262 236,280 242.6,301 C238,322 222,340 201.8,349.4" fill="none" stroke="#000" stroke-width="1.0" />
<path d="M190,258.6 C212,266 232,284 242.6,301 C235,318 220,338 201.8,349.4" fill="none" stroke="#000" stroke-width="0.8" />
<path d="M190,258.6 C208,268 228,287 239,300.5 C232,316 217,335 201.8,349.4" fill="none" stroke="#000" stroke-width="0.8" />
<path d="M193,262 l2,-1 M195.6,268 C210,272 224,282 231,294" fill="none" stroke="#000" stroke-width="0.8" />
<ellipse cx="199" cy="273" rx="4.4" ry="6" fill="none" stroke="#000" stroke-width="0.9" transform="rotate(-10 199 273)"/>
<ellipse cx="199" cy="273" rx="3" ry="4.4" fill="none" stroke="#000" stroke-width="0.8" transform="rotate(-10 199 273)"/>
<path d="M193,281.2 L220.5,277.4 L229,287 L233.6,300 L232,314 L224,326 L214,333 L199.6,337 Z" fill="#fff"/>
<path d="M193.2,283.0 L223.5,279.8" fill="none" stroke="#000" stroke-width="1.7" />
<path d="M193.6,286.6 L225.6,283.4" fill="none" stroke="#000" stroke-width="1.7" />
<path d="M194.0,290.1 L229.4,286.9" fill="none" stroke="#000" stroke-width="1.7" />
<path d="M194.5,293.6 L230.9,290.4" fill="none" stroke="#000" stroke-width="1.7" />
<path d="M194.9,297.2 L232.0,294.0" fill="none" stroke="#000" stroke-width="1.7" />
<path d="M195.3,300.8 L232.8,297.6" fill="none" stroke="#000" stroke-width="1.7" />
<path d="M195.7,304.3 L233.3,301.1" fill="none" stroke="#000" stroke-width="1.7" />
<path d="M196.1,307.9 L233.5,304.7" fill="none" stroke="#000" stroke-width="1.7" />
<path d="M196.6,311.4 L233.4,308.2" fill="none" stroke="#000" stroke-width="1.7" />
<path d="M197.0,314.9 L232.9,311.8" fill="none" stroke="#000" stroke-width="1.7" />
<path d="M197.4,318.5 L232.1,315.3" fill="none" stroke="#000" stroke-width="1.7" />
<path d="M197.8,322.1 L231.0,318.9" fill="none" stroke="#000" stroke-width="1.7" />
<path d="M198.2,325.6 L229.5,322.4" fill="none" stroke="#000" stroke-width="1.7" />
<path d="M198.7,329.1 L227.8,325.9" fill="none" stroke="#000" stroke-width="1.7" />
<path d="M199.1,332.7 L225.7,329.5" fill="none" stroke="#000" stroke-width="1.7" />
<path d="M193,280 L200,337 M201.6,281 l4,53 M210,279.6 l4,52 M217.6,279 l3,46 M193,280 L219,276.6 C228,283 234,293 235,302 C232,315 224,326 214,332.6 L200,337" fill="none" stroke="#000" stroke-width="0.9" />
<path d="M179,360 Q180,354.4 186,354 L196,354.4 C203,355 208,359 210,366 L227,420 L225,422 L186.6,420.4 Q184.6,420 184,417 Z" fill="none" stroke="#000" stroke-width="1.0" />
<path d="M196,354.4 C204.6,355.6 209.6,360 211.6,366 L227,420" fill="none" stroke="#000" stroke-width="0.8" stroke-dasharray="1.6 1.1"/>
<path d="M193.8,421 L186.4,372 Q185.6,367 190,367 L196,367.6 Q199.2,368 199.8,372 L209,421.8" fill="none" stroke="#000" stroke-width="1.2" />
<path d="M190,370.6 L191,381 M197,371 L199,382" fill="none" stroke="#000" stroke-width="1.1" />
<ellipse cx="253" cy="395.8" rx="5.8" ry="7" fill="none" stroke="#000" stroke-width="0.9"/>
<ellipse cx="253.6" cy="395.8" rx="3.0" ry="4.0" fill="none" stroke="#000" stroke-width="0.9"/>
<ellipse cx="252.2" cy="395.8" rx="4.4" ry="5.8" fill="none" stroke="#000" stroke-width="0.7"/>
<path d="M256.2,438 L229,457.6 Q224.6,461 224,467 L223.4,474 Q223.4,478.6 226.6,482 L244,505 L271,541 Q276,547 281,545.6 Q284.6,544 284,537 L282.6,523 Q282,513.6 287.4,513.4 Q292,513.6 293.6,522 L297.4,540 Q299,547.4 303.4,546.6 Q307.6,545.6 306.6,538 L303.6,519 Q302.6,509.4 308.4,509 Q313.6,509 315.4,518 L319,536 Q320.6,543.6 325,542.6 Q329,541.4 328.2,534.6 L325.4,517 Q324.6,508.4 330,508 Q335.6,508 338,516 L342.6,529 Q346.6,539 357,539.4 Q366,539.4 375,532.6 L393.4,516" fill="none" stroke="#000" stroke-width="4.7"/>
<path d="M256.2,438 L229,457.6 Q224.6,461 224,467 L223.4,474 Q223.4,478.6 226.6,482 L244,505 L271,541 Q276,547 281,545.6 Q284.6,544 284,537 L282.6,523 Q282,513.6 287.4,513.4 Q292,513.6 293.6,522 L297.4,540 Q299,547.4 303.4,546.6 Q307.6,545.6 306.6,538 L303.6,519 Q302.6,509.4 308.4,509 Q313.6,509 315.4,518 L319,536 Q320.6,543.6 325,542.6 Q329,541.4 328.2,534.6 L325.4,517 Q324.6,508.4 330,508 Q335.6,508 338,516 L342.6,529 Q346.6,539 357,539.4 Q366,539.4 375,532.6 L393.4,516" fill="none" stroke="#fff" stroke-width="2.7"/>
<path d="M255,436.4 l2.6,3" fill="none" stroke="#000" stroke-width="1.0" />
<path d="M391.8,514.4 L400.8,502.4 L406.2,508.4 L394.8,517.8" fill="none" stroke="#000" stroke-width="1.0" />
<path d="M400.8,502.4 L404.6,499 L409.6,505 L406.2,508.4 M398.6,505.4 l5.2,6" fill="none" stroke="#000" stroke-width="0.9" />
<g transform="rotate(-42 415.6 496)"><rect x="406.6" y="487" width="16" height="18" rx="4.5" fill="none" stroke="#000" stroke-width="1.1"/><ellipse cx="421" cy="496" rx="3.6" ry="8.6" fill="none" stroke="#000" stroke-width="1"/><path d="M409.6,487.4 v17.2 M412.6,487 v18" fill="none" stroke="#000" stroke-width="0.9"/><path d="M421,490.6 h3 M421,501.4 h3 M418.4,492 v3 M418.4,498 v3" stroke="#000" stroke-width="1.1" fill="none"/></g>
<path d="M413.4,488.8 L414.6,481.6 Q415.6,480 416.6,481.6 L416,489.6" fill="none" stroke="#000" stroke-width="1.0" />
<path d="M422.6,494.6 l1.6,7.6 M425.4,494 l0.8,6" fill="none" stroke="#000" stroke-width="0.9" />
<path d="M371.6,437 l4,0.8" fill="none" stroke="#000" stroke-width="1.0" />
<path d="M376,437.4 l7.6,1.4" fill="none" stroke="#000" stroke-width="2.2" />
<path d="M384,439.2 l2.8,0.6" fill="none" stroke="#000" stroke-width="1.0" />
<path d="M416.6,384.4 l3,-1.8 l5.6,5.6 l-0.4,4.6 l-3,0.6 l-5,-5 z M419.8,387 l2.6,2.6 l-0.2,2 M424.6,388 l-3,1.6" fill="none" stroke="#000" stroke-width="0.9" />
<path d="M427.6,382.8 l3.6,-1.2 l4.8,4.6 l0,4.6 l-3.4,0.2 l-4.8,-4.4 z M430.6,385.4 l2.4,2.2 l0,1.8 M435.8,386.4 l-3,1.2" fill="none" stroke="#000" stroke-width="0.9" />
<path d="M437.20000000000005,354.6 q-2.2,3.6 0,7.2 l4.6,-0.4 l0,-0.8 l7.6,-0.8 q1.6,-2.2 0,-4.2 l-7.6,0.2 l0,-0.8 z M441.8,355.0 l0,6.4 M439.0,354.8 q-1.6,3.4 0,6.8" fill="none" stroke="#000" stroke-width="0.9" />
<path d="M443.20000000000005,362.2 q-2.2,3.6 0,7.2 l4.6,-0.4 l0,-0.8 l7.6,-0.8 q1.6,-2.2 0,-4.2 l-7.6,0.2 l0,-0.8 z M447.8,362.59999999999997 l0,6.4 M445.0,362.4 q-1.6,3.4 0,6.8" fill="none" stroke="#000" stroke-width="0.9" />
<ellipse cx="430.7" cy="287.2" rx="7.7" ry="22.2" fill="none" stroke="#000" stroke-width="0.9"/>
<ellipse cx="430.4" cy="287.2" rx="5.0" ry="14.5" fill="none" stroke="#000" stroke-width="1.0"/>
<path d="M432.8,269.9 L432.5,265.4" fill="none" stroke="#000" stroke-width="0.9" />
<path d="M431.7,269.1 L431.1,264.8" fill="none" stroke="#000" stroke-width="0.9" />
<path d="M430.6,268.8 L429.6,265.0" fill="none" stroke="#000" stroke-width="0.9" />
<path d="M429.5,269.2 L428.2,265.9" fill="none" stroke="#000" stroke-width="0.9" />
<path d="M428.4,270.1 L426.9,267.6" fill="none" stroke="#000" stroke-width="0.9" />
<path d="M427.4,271.7 L425.7,269.9" fill="none" stroke="#000" stroke-width="0.9" />
<path d="M426.5,273.7 L424.7,272.8" fill="none" stroke="#000" stroke-width="0.9" />
<path d="M425.7,276.3 L423.8,276.1" fill="none" stroke="#000" stroke-width="0.9" />
<path d="M425.1,279.1 L423.2,279.9" fill="none" stroke="#000" stroke-width="0.9" />
<path d="M424.7,282.3 L422.9,283.8" fill="none" stroke="#000" stroke-width="0.9" />
<path d="M424.5,285.6 L422.8,287.9" fill="none" stroke="#000" stroke-width="0.9" />
<path d="M424.5,289.0 L423.0,292.0" fill="none" stroke="#000" stroke-width="0.9" />
<path d="M424.7,292.3 L423.4,295.9" fill="none" stroke="#000" stroke-width="0.9" />
<path d="M425.2,295.4 L424.1,299.5" fill="none" stroke="#000" stroke-width="0.9" />
<path d="M425.7,298.3 L425.0,302.7" fill="none" stroke="#000" stroke-width="0.9" />
<path d="M426.5,300.8 L426.1,305.4" fill="none" stroke="#000" stroke-width="0.9" />
<path d="M427.4,302.8 L427.3,307.5" fill="none" stroke="#000" stroke-width="0.9" />
<path d="M428.4,304.3 L428.7,308.9" fill="none" stroke="#000" stroke-width="0.9" />
<path d="M429.5,305.3 L430.1,309.5" fill="none" stroke="#000" stroke-width="0.9" />
<path d="M430.6,305.6 L431.6,309.5" fill="none" stroke="#000" stroke-width="0.9" />
<path d="M431.8,305.3 L433.0,308.6" fill="none" stroke="#000" stroke-width="0.9" />
<path d="M432.9,304.4 L434.3,307.1" fill="none" stroke="#000" stroke-width="0.9" />
<path d="M432.5,264 L450.2,265 C454,270 455.8,279 455.6,288 C455.4,298 453.6,305 450.8,308.8 L433.7,310" fill="none" stroke="#000" stroke-width="1.0" />
<path d="M434,266.6 L450.6,267.2" fill="none" stroke="#000" stroke-width="1.6" />
<path d="M436,268 C439.6,275 440.2,297 436.4,306" fill="none" stroke="#000" stroke-width="1.0" />
<path d="M437.5,273.3 L454.0,272.7" fill="none" stroke="#000" stroke-width="1.3" />
<path d="M437.8,279.9 L454.9,279.29999999999995" fill="none" stroke="#000" stroke-width="1.3" />
<path d="M438.2,286.4 L455.2,285.79999999999995" fill="none" stroke="#000" stroke-width="1.3" />
<path d="M437.9,292.9 L455.0,292.29999999999995" fill="none" stroke="#000" stroke-width="1.3" />
<path d="M437.6,298.8 L454.3,298.2" fill="none" stroke="#000" stroke-width="1.3" />
<path d="M437.4,303.5 L453.5,302.9" fill="none" stroke="#000" stroke-width="1.3" />
<path d="M447.3,269 L447.5,307 M452,267 L452.4,284 M442,269 L442,273 M443,299 L443,307" fill="none" stroke="#000" stroke-width="1.0" />
<path d="M437,303 l12,-3.4 M437,306.4 l13,-1.4 M436.6,300 l8,-2.6" fill="none" stroke="#000" stroke-width="1.2" />
<path d="M426.6,285.2 h4.7 v4.1 h-4.7 z" fill="none" stroke="#000" stroke-width="1.0" />
<path d="M455.6,237.8 l6,-1 l1.6,-2.2 l5.6,-1.8 l11.4,0.6 l1.2,1.8 l-3.4,9 l-1.6,3.2 l-7.4,-1.4 l-5.6,-7 l-7.2,1.2 z" fill="none" stroke="#000" stroke-width="0.9" />
<path d="M463,234.6 l16.6,1 M469,244.6 l0.6,3 l1.8,0.4 l0,-2.8 M475.6,246.6 l0.4,2.8 l1.6,0.2 l0.2,-2.6 M463.6,237.4 l3,1 l3.4,6" fill="none" stroke="#000" stroke-width="0.9" />
<path d="M405.6,232.6 h6 v6.4 h-6 z M407.4,235.8 h2.6" fill="none" stroke="#000" stroke-width="0.9" />
<path d="M411.6,233.6 h2 V230 h4.6 M413.6,238 v3 q0.4,2 3,2.2" fill="none" stroke="#000" stroke-width="0.9" />
<path d="M417,229.6 q7.6,-0.6 7.8,6 q0,4.6 -4.6,5 M413.6,230 v3.6" fill="none" stroke="#000" stroke-width="0.9" />
<ellipse cx="418.6" cy="243.6" rx="5.2" ry="5.6" fill="none" stroke="#000" stroke-width="0.9"/>
<ellipse cx="439" cy="203.6" rx="8.4" ry="16.4" fill="none" stroke="#000" stroke-width="1.0"/>
<path d="M441,187.6 L452,185.4 L461,189 L463.6,194 L463.6,214 L460,219 L452,221.4 L441.6,219.6" fill="none" stroke="#000" stroke-width="1.0" />
<path d="M452,185.4 L450.6,221.2 M461,189 L460,219 M452,221.4 l0.4,-3 M442,186 l4,-1.6 l6,1" fill="none" stroke="#000" stroke-width="0.9" />
<path d="M456,199 h4 v13 h-4 z" fill="none" stroke="#000" stroke-width="1.0" />
<ellipse cx="441.6" cy="196.6" rx="1.0" ry="1.6" fill="none" stroke="#000" stroke-width="0.9"/>
<path d="M449,221 l0.2,2.6 l9,-1 l0.2,-2.6" fill="none" stroke="#000" stroke-width="0.8" />
<path d="M496.6,183 L508.4,184 L508.6,231.4 L499,231 L496.8,229.6 Z" fill="none" stroke="#000" stroke-width="1.0" />
<path d="M498,187 q1.2,-1.4 2.2,0 l0.2,39 q-1.2,1.6 -2.4,0 z" fill="none" stroke="#000" stroke-width="0.8" />
<path d="M501.8,184.6 L502,230 M504.2,185 L504.4,230.6" fill="none" stroke="#000" stroke-width="1.5" />
<path d="M496.6,183 l4,-0.6 M503,183 l6.4,0.6 M503,231.8 l6.4,0.2" fill="none" stroke="#000" stroke-width="0.9" />
<path d="M570.8,210.4 L575,209 L594.6,209.6 L594.6,213.6 L590.6,216 L577.6,216 L577.6,213.6 L571,213.8 Z M575,209 l2,2.6 l17.6,0.6" fill="none" stroke="#000" stroke-width="0.9" />
<path d="M568.4,297 L573,295.2 L586.6,296.2 L592.6,298 L592.6,302.6 L573,303 L568.4,301.6 Z M573,295.2 l0,7.6 M573,297.8 l19,1" fill="none" stroke="#000" stroke-width="0.9" />
<path d="M574.6,224.4 L588.6,223.6 L588.6,276 L574.6,276 Z M577,226.4 L586.4,226 L586.4,274 L577,274 Z" fill="none" stroke="#000" stroke-width="0.9" />
<path d="M581.6,226 v48" fill="none" stroke="#000" stroke-width="0.9" />
<path d="M577,228.0 l4.6,9.2 l-4.6,0 M581.6,228.0 l-4.6,9.2 M581.6,228.0 l4.8,9.2 l-4.8,0 M586.4,228.0 l-4.8,9.2" fill="none" stroke="#000" stroke-width="0.7" />
<path d="M577,237.2 l4.6,9.2 l-4.6,0 M581.6,237.2 l-4.6,9.2 M581.6,237.2 l4.8,9.2 l-4.8,0 M586.4,237.2 l-4.8,9.2" fill="none" stroke="#000" stroke-width="0.7" />
<path d="M577,246.4 l4.6,9.2 l-4.6,0 M581.6,246.4 l-4.6,9.2 M581.6,246.4 l4.8,9.2 l-4.8,0 M586.4,246.4 l-4.8,9.2" fill="none" stroke="#000" stroke-width="0.7" />
<path d="M577,255.6 l4.6,9.2 l-4.6,0 M581.6,255.6 l-4.6,9.2 M581.6,255.6 l4.8,9.2 l-4.8,0 M586.4,255.6 l-4.8,9.2" fill="none" stroke="#000" stroke-width="0.7" />
<path d="M577,264.8 l4.6,9.2 l-4.6,0 M581.6,264.8 l-4.6,9.2 M581.6,264.8 l4.8,9.2 l-4.8,0 M586.4,264.8 l-4.8,9.2" fill="none" stroke="#000" stroke-width="0.7" />
<path d="M576.6,276 v12 M578.6,276 v12 M585.6,276 v12 M587.6,276 v12" fill="none" stroke="#000" stroke-width="1.0" />
<path d="M522.6,239.8 C514,241.6 509.6,250 510,258 C510.4,266.6 515.6,272.6 523,272.8 C530.6,271.6 534.8,264 534.6,256 C534.4,247.6 529.6,240.4 522.6,239.8 Z" fill="none" stroke="#000" stroke-width="1.0" />
<path d="M525.6,240.6 C531,243 537.6,250 537.6,258 C537.6,265 533,270.6 527,272.2" fill="none" stroke="#000" stroke-width="0.9" />
<ellipse cx="520" cy="256.4" rx="6.6" ry="11.6" fill="none" stroke="#000" stroke-width="0.9"/>
<path d="M514.6,250 l10,4 M514,258 l11,-2 M516,264 l8,-6 M520.6,245.6 l1,20 M517,247.6 l7,16" fill="none" stroke="#000" stroke-width="0.8" />
<ellipse cx="520.6" cy="256.4" rx="2.4" ry="3.6" fill="none" stroke="#000" stroke-width="1.2"/>
<path d="M505.6,256.2 l5,0.4" fill="none" stroke="#000" stroke-width="1.6" />
<path d="M509,254.6 l-2.6,1.6 l2.6,1.6" fill="none" stroke="#000" stroke-width="0.8" />
<path d="M522.7,221.6 L526,219.8 L550,220.6 L552.4,225.8 L549,228.4 L528,227.6 Z" fill="none" stroke="#000" stroke-width="1.0" />
<path d="M530.4,224.2 h15 v3.4 h-15 z M526,219.8 l1.6,-1 l4,0.2 M540,220 l1,-1.4 l7,0.4 l0.6,1.4" fill="none" stroke="#000" stroke-width="0.9" />
<path d="M527.6,228 l-3,3 l10,0.6 M537.8,231.6 L539,282" fill="none" stroke="#000" stroke-width="1.0" />
<path d="M541.6,231.6 L542.8,281 M543.6,234.6 l9.6,0.6 l0.2,3 l-8.6,-0.2 z" fill="none" stroke="#000" stroke-width="0.9" />
<path d="M543,238 C549.6,247 551,262 547,275 L543,282" fill="none" stroke="#000" stroke-width="1.3" stroke-dasharray="2.2 1"/>
<path d="M545.6,240 C551.6,248 553,263 549.6,274" fill="none" stroke="#000" stroke-width="0.8" />
<path d="M552.4,225.6 C564,229 569.6,244 568,260 C567,273 563,283 556,286" fill="none" stroke="#000" stroke-width="0.9" />
<path d="M521.6,282.6 l3.6,-1.6 l31,2 l2.6,2.6 l-1.6,3 l-12,-0.4 l-2.6,2.4 l-8,-0.4 l-1.4,-2 l-10,-1.2 z" fill="none" stroke="#000" stroke-width="1.0" />
<path d="M524.6,284 l0.6,6 M528.6,284.4 l0.4,6 l6,2 M540,285.6 l-1.4,4.6 M533,286 h5 v3 h-5 z" fill="none" stroke="#000" stroke-width="0.9" />
<line x1="516.2" y1="276" x2="516.2" y2="304.4" stroke="#000" stroke-width="1.3"/>
<line x1="530.4" y1="293" x2="530.4" y2="304" stroke="#000" stroke-width="1.0"/>
<line x1="573.4" y1="284.4" x2="557.4" y2="297.6" stroke="#000" stroke-width="0.9"/>
<path d="M564.6,340.6 L568.6,337 L572.6,337.4 L575.6,341.6 L575.6,347 L572.6,351.2 L568,351.4 L564.6,347.6 Z" fill="none" stroke="#000" stroke-width="1.0" />
<ellipse cx="568.4" cy="344.2" rx="3.2" ry="4.6" fill="none" stroke="#000" stroke-width="0.9"/>
<path d="M568.6,337 l1,-1.8 l2,0.2 l1,2 M568,351.4 l1,1.8 l2,0 l1.6,-2" fill="none" stroke="#000" stroke-width="0.8" />
<path d="M562.4,341.6 l2.2,-1 M562.4,346.6 l2.2,1 M562.4,341.6 v5" fill="none" stroke="#000" stroke-width="0.8" />
<path d="M526,349 L560,361" fill="none" stroke="#000" stroke-width="0.9" stroke-dasharray="6 1.2 1.4 1.2"/>
<path d="M535,351.6 l8,2.8" fill="none" stroke="#000" stroke-width="1.8" />
<path d="M516.4,365 L518.6,372 L519.6,390 L517.6,399 M514.4,366 L516.6,373 L517.4,390 L515.4,398" fill="none" stroke="#000" stroke-width="1.0" />
<path d="M510.4,371 v9 h5.6 M510.6,385 h5 M511,391 q-0.6,5 2,6" fill="none" stroke="#000" stroke-width="0.9" />
<path d="M520.0,372.6 l1.6,17.6" fill="none" stroke="#000" stroke-width="1.1" />
<path d="M521.9,372.5 l1.6,17.6" fill="none" stroke="#000" stroke-width="1.1" />
<path d="M523.8,372.4 l1.6,17.6" fill="none" stroke="#000" stroke-width="1.1" />
<path d="M525.7,372.3 l1.6,17.6" fill="none" stroke="#000" stroke-width="1.1" />
<path d="M527.6,372.2 l1.6,17.6" fill="none" stroke="#000" stroke-width="1.1" />
<path d="M519,372.4 L598.6,368.8 M530,372.6 L600,371 M530,376.6 L601.4,374.6 M530,380.6 L601.6,378.6 M530,384.6 L600.6,382.6 M519.6,389.6 L598,386.8" fill="none" stroke="#000" stroke-width="0.95" />
<ellipse cx="602.7" cy="378" rx="8" ry="17.5" fill="none" stroke="#000" stroke-width="0.9"/>
<path d="M596.8,365.6 C603.4,370 603.4,386 596.8,390" fill="none" stroke="#000" stroke-width="1.5" />
<path d="M538.6,372.6 v16 M545,376 v5 M562,371.6 v15.6 M568,375.6 v5 M586,370.6 v15.6 M592,374.6 v4.6" fill="none" stroke="#000" stroke-width="0.8" />
<ellipse cx="549" cy="380.6" rx="7.8" ry="13.2" fill="none" stroke="#000" stroke-width="1.1"/>
<ellipse cx="549.6" cy="380.6" rx="5.2" ry="10" fill="none" stroke="#000" stroke-width="0.9"/>
<path d="M546.5,368.0 C538.5,372.6 538.5,388.6 546.5,393.20000000000005" fill="none" stroke="#000" stroke-width="0.9" />
<ellipse cx="572.6" cy="379.2" rx="7.8" ry="13.2" fill="none" stroke="#000" stroke-width="1.1"/>
<ellipse cx="573.2" cy="379.2" rx="5.2" ry="10" fill="none" stroke="#000" stroke-width="0.9"/>
<path d="M570.1,366.59999999999997 C562.1,371.2 562.1,387.2 570.1,391.8" fill="none" stroke="#000" stroke-width="0.9" />
<path d="M583,378 L598,388" fill="none" stroke="#000" stroke-width="0.9" />
<path d="M619.3,452.0 L619.3,428.0 C619.6,417.0 625.0,413.6 631.6,413.6 C641.0,414.0 646.0,424.0 647.0,440.0 L647.8,452.0" fill="none" stroke="#000" stroke-width="1.0" />
<path d="M621.3,452.0 L621.3,428.6 C621.6,419.4 626.0,415.8 631.6,415.8 C639.4,416.0 644.0,425.0 645.0,440.0 L645.8,452.0" fill="none" stroke="#000" stroke-width="0.8" />
<path d="M646.8,452.0 L647.6,459.4" fill="none" stroke="#000" stroke-width="2.4" stroke-dasharray="1.2 1"/>
<path d="M628.0,414.0 l6,0" fill="none" stroke="#000" stroke-width="1.5" />
<path d="M619.3,452.0 q-0.6,1.8 -2.6,1.6 q-2,-0.4 -2,-2 q1,-1.4 2.6,-0.6 M621.3,452.0 q-0.4,3.4 -3.6,3.4" fill="none" stroke="#000" stroke-width="0.9" />
<path d="M619.6,424.6 l0,4" fill="none" stroke="#000" stroke-width="1.8" />
<path d="M602.8,465.4 L609.6,462.6 L624.0,465.0 L662.0,483.6 L661.6,487.0 L657.0,488.6 L645.0,488.0 L605.0,471.4 L603.0,469.6 Z" fill="none" stroke="#000" stroke-width="1.0" />
<path d="M604.0,467.4 L646.0,485.0 L661.0,485.4" fill="none" stroke="#000" stroke-width="0.9" />
<path d="M612.0,466.0 L650.0,482.0" fill="none" stroke="#000" stroke-width="0.8" stroke-dasharray="5 2 1 2"/>
<ellipse cx="610.6" cy="463.4" rx="1.9" ry="1.4" fill="none" stroke="#000" stroke-width="0.9"/>
<path d="M608.7,463.4 v1.6 q1.9,1.4 3.8,0 v-1.6" fill="none" stroke="#000" stroke-width="0.8" />
<ellipse cx="654.0" cy="484.4" rx="2.0" ry="1.0" fill="none" stroke="#000" stroke-width="0.8"/>
<ellipse cx="622.6" cy="467.6" rx="0.8" ry="0.5" fill="none" stroke="#000" stroke-width="0.8"/>
<ellipse cx="638.0" cy="475.6" rx="0.8" ry="0.5" fill="none" stroke="#000" stroke-width="0.8"/>
<ellipse cx="654.2" cy="470.6" rx="2.3" ry="2.0" fill="none" stroke="#000" stroke-width="0.9"/>
<path d="M651.9,470.6 v1.4 q2.3,1.8 4.6,0 v-1.4" fill="none" stroke="#000" stroke-width="0.8" />
<ellipse cx="619.6" cy="488.6" rx="9.6" ry="10.6" fill="none" stroke="#000" stroke-width="1.0"/>
<path d="M613.0,480.6 C606.0,482.0 606.0,495.0 612.6,497.6 L616.0,498.6" fill="none" stroke="#000" stroke-width="1.0" />
<path d="M610.6,473.6 L609.4,481.4 M614.6,475.2 L613.4,481.0 M611.6,489.6 L612.0,482.0" fill="none" stroke="#000" stroke-width="0.9" />
<path d="M633.6,496.0 l3.4,-2 l5,0.6 l2.2,2.6 l-2.4,2.4 l-1.6,-2 l-3,-0.4 l-1.4,1 z" fill="none" stroke="#000" stroke-width="0.9" />
<path d="M651.4,489.6 h5 M651.4,491.6 h5 M651.4,493.6 h5 M651.6,495.6 h4.6 M651.6,497.4 h4.6" fill="none" stroke="#000" stroke-width="1.2" />
<path d="M652.4,488.4 v13 M655.4,488.4 v12" fill="none" stroke="#000" stroke-width="0.9" />
<ellipse cx="661.6" cy="511.4" rx="9.6" ry="10.6" fill="none" stroke="#000" stroke-width="1.0"/>
<ellipse cx="662.8" cy="511.6" rx="8.0" ry="9.2" fill="none" stroke="#000" stroke-width="0.9"/>
<path d="M653.0,501.4 C646.0,503.6 644.6,516.0 651.0,520.4 L658.6,522.0" fill="none" stroke="#000" stroke-width="1.0" />
<path d="M653.0,501.4 L657.6,501.6 M649.6,505.0 C647.6,510.0 648.6,516.0 652.6,519.0" fill="none" stroke="#000" stroke-width="0.9" />
<path d="M748.4,442.6 L748.4,418.6 C748.7,407.6 754.1,404.2 760.7,404.2 C770.1,404.6 775.1,414.6 776.1,430.6 L776.9,442.6" fill="none" stroke="#000" stroke-width="1.0" />
<path d="M750.4,442.6 L750.4,419.2 C750.7,410.0 755.1,406.4 760.7,406.4 C768.5,406.6 773.1,415.6 774.1,430.6 L774.9,442.6" fill="none" stroke="#000" stroke-width="0.8" />
<path d="M775.9,442.6 L776.7,450.0" fill="none" stroke="#000" stroke-width="2.4" stroke-dasharray="1.2 1"/>
<path d="M757.1,404.6 l6,0" fill="none" stroke="#000" stroke-width="1.5" />
<path d="M748.4,442.6 q-0.6,1.8 -2.6,1.6 q-2,-0.4 -2,-2 q1,-1.4 2.6,-0.6 M750.4,442.6 q-0.4,3.4 -3.6,3.4" fill="none" stroke="#000" stroke-width="0.9" />
<path d="M748.7,415.2 l0,4" fill="none" stroke="#000" stroke-width="1.8" />
<path d="M731.9,456.0 L738.7,453.2 L753.1,455.6 L791.1,474.2 L790.7,477.6 L786.1,479.2 L774.1,478.6 L734.1,462.0 L732.1,460.2 Z" fill="none" stroke="#000" stroke-width="1.0" />
<path d="M733.1,458.0 L775.1,475.6 L790.1,476.0" fill="none" stroke="#000" stroke-width="0.9" />
<path d="M741.1,456.6 L779.1,472.6" fill="none" stroke="#000" stroke-width="0.8" stroke-dasharray="5 2 1 2"/>
<ellipse cx="739.7" cy="454.0" rx="1.9" ry="1.4" fill="none" stroke="#000" stroke-width="0.9"/>
<path d="M737.8,454.0 v1.6 q1.9,1.4 3.8,0 v-1.6" fill="none" stroke="#000" stroke-width="0.8" />
<ellipse cx="783.1" cy="475.0" rx="2.0" ry="1.0" fill="none" stroke="#000" stroke-width="0.8"/>
<ellipse cx="751.7" cy="458.2" rx="0.8" ry="0.5" fill="none" stroke="#000" stroke-width="0.8"/>
<ellipse cx="767.1" cy="466.2" rx="0.8" ry="0.5" fill="none" stroke="#000" stroke-width="0.8"/>
<ellipse cx="783.3" cy="461.2" rx="2.3" ry="2.0" fill="none" stroke="#000" stroke-width="0.9"/>
<path d="M781.0,461.2 v1.4 q2.3,1.8 4.6,0 v-1.4" fill="none" stroke="#000" stroke-width="0.8" />
<ellipse cx="748.7" cy="479.2" rx="9.6" ry="10.6" fill="none" stroke="#000" stroke-width="1.0"/>
<path d="M742.1,471.2 C735.1,472.6 735.1,485.6 741.7,488.2 L745.1,489.2" fill="none" stroke="#000" stroke-width="1.0" />
<path d="M739.7,464.2 L738.5,472.0 M743.7,465.8 L742.5,471.6 M740.7,480.2 L741.1,472.6" fill="none" stroke="#000" stroke-width="0.9" />
<path d="M762.7,486.6 l3.4,-2 l5,0.6 l2.2,2.6 l-2.4,2.4 l-1.6,-2 l-3,-0.4 l-1.4,1 z" fill="none" stroke="#000" stroke-width="0.9" />
<path d="M780.5,480.2 h5 M780.5,482.2 h5 M780.5,484.2 h5 M780.7,486.2 h4.6 M780.7,488.0 h4.6" fill="none" stroke="#000" stroke-width="1.2" />
<path d="M781.5,479.0 v13 M784.5,479.0 v12" fill="none" stroke="#000" stroke-width="0.9" />
<ellipse cx="790.7" cy="502.0" rx="9.6" ry="10.6" fill="none" stroke="#000" stroke-width="1.0"/>
<ellipse cx="791.9" cy="502.2" rx="8.0" ry="9.2" fill="none" stroke="#000" stroke-width="0.9"/>
<path d="M782.1,492.0 C775.1,494.2 773.7,506.6 780.1,511.0 L787.7,512.6" fill="none" stroke="#000" stroke-width="1.0" />
<path d="M782.1,492.0 L786.7,492.2 M778.7,495.6 C776.7,500.6 777.7,506.6 781.7,509.6" fill="none" stroke="#000" stroke-width="0.9" />
<path d="M438.6,132.6 L432.4,132.8 L432,136.6 L430.2,137.4 L431.8,139.8 L435.2,141.2 L438.4,140.6" fill="none" stroke="#000" stroke-width="1.3" />
<path d="M436.4,134 q3.4,0.6 3.4,4.6 l-1.6,6 l0.4,6 l2,2" fill="none" stroke="#000" stroke-width="1.4" />
<path d="M439.4,132.4 q3,0.4 3.4,4 l-0.6,13 M442.4,132.6 l1,18.6 M446.6,132.4 q-1.6,8 -0.8,17 M448.6,133 q1.4,9 0.4,17.6 M445,134.6 l0.6,12" fill="none" stroke="#000" stroke-width="1.3" />
<path d="M439.6,149.6 q1.6,2.6 3.6,1.8 l2,-1.6 l1.6,1.8 l2.4,-0.8" fill="none" stroke="#000" stroke-width="1.4" /></g>
<g id="lab" font-family="'Liberation Serif', serif" fill="#000"><text transform="translate(60.4 57.6) scale(1.09 1)" font-size="16.9">8</text>
<path d="M61,59.2 L69,59.2 L76.8,149.6" fill="none" stroke="#000" stroke-width="0.9"/>
<path d="M76.8,149.6 L75.0,144.2 L77.6,144.0 Z" fill="#000"/>
<text transform="translate(124.2 49.5) scale(1.09 1)" font-size="16.9">7</text>
<path d="M124.5,55.6 L132.6,55.6 L137,91.4" fill="none" stroke="#000" stroke-width="0.9"/>
<path d="M137.0,91.4 L135.0,86.1 L137.6,85.8 Z" fill="#000"/>
<text transform="translate(197.2 46.7) scale(1.09 1)" font-size="16.9">6</text>
<path d="M197.5,52.6 L206,52.6 L213,110.5" fill="none" stroke="#000" stroke-width="0.9"/>
<path d="M213.0,110.5 L211.0,105.2 L213.6,104.9 Z" fill="#000"/>
<text transform="translate(248.2 59) scale(1.09 1)" font-size="16.9">5</text>
<path d="M249.6,63.2 L257,63.2 L268.8,91.5" fill="none" stroke="#000" stroke-width="0.9"/>
<path d="M268.8,91.5 L265.5,86.9 L267.9,85.9 Z" fill="#000"/>
<text transform="translate(295.6 46.1) scale(1.09 1)" font-size="16.9">4</text>
<path d="M296,48.6 L304.6,48.6" fill="none" stroke="#000" stroke-width="0.9"/>
<path d="M297.6,49.2 L305.6,65.6" fill="none" stroke="#000" stroke-width="0.9"/>
<path d="M305.6,65.6 L302.0,61.2 L304.4,60.1 Z" fill="#000"/>
<text transform="translate(358.6 50.8) scale(1.09 1)" font-size="16.9">3</text>
<path d="M359,54.2 L369,54.2 L378.4,101.6" fill="none" stroke="#000" stroke-width="0.9"/>
<text transform="translate(417 59) scale(1.09 1)" font-size="16.9">2</text>
<path d="M417,62.2 L426.5,62.2 L439.3,114" fill="none" stroke="#000" stroke-width="0.9"/>
<text transform="translate(508.4 53) scale(1.09 1)" font-size="16.9">1</text>
<path d="M506.7,60.8 L514.5,60.8 L616.5,86.4" fill="none" stroke="#000" stroke-width="0.9"/>
<path d="M616.5,86.4 L610.8,86.3 L611.5,83.8 Z" fill="#000"/>
<text transform="translate(67.6 265.6) scale(1.09 1)" font-size="16.9">9</text>
<path d="M67.3,269.2 L146.4,270.8" fill="none" stroke="#000" stroke-width="0.9"/>
<path d="M146.4,270.8 L140.9,272.0 L140.9,269.4 Z" fill="#000"/>
<text transform="translate(65 309.3) scale(1.09 1)" font-size="16.9">10</text>
<path d="M67,311.8 L174.8,311.8" fill="none" stroke="#000" stroke-width="0.9"/>
<path d="M174.8,311.8 L169.3,313.1 L169.3,310.5 Z" fill="#000"/>
<text transform="translate(68.6 378.5) scale(1.09 1)" font-size="16.9">11</text>
<path d="M71,382 L160.4,384.6" fill="none" stroke="#000" stroke-width="0.9"/>
<path d="M160.4,384.6 L154.9,385.7 L154.9,383.1 Z" fill="#000"/>
<text transform="translate(171.6 460.8) scale(1.09 1)" font-size="16.9">12</text>
<path d="M181.8,462.2 L190.3,462.2 L250,409.5" fill="none" stroke="#000" stroke-width="0.9"/>
<path d="M250.0,409.5 L246.7,414.1 L245.0,412.2 Z" fill="#000"/>
<text transform="translate(85.8 521.9) scale(1.09 1)" font-size="16.9">13</text>
<path d="M105,522.4 L228,510" fill="none" stroke="#000" stroke-width="0.9"/>
<path d="M228.0,510.0 L222.7,511.8 L222.4,509.3 Z" fill="#000"/>
<text transform="translate(464.8 478.5) scale(1.09 1)" font-size="16.9">14</text>
<path d="M473.4,481.8 L463,481.8 L390,443.4" fill="none" stroke="#000" stroke-width="0.9"/>
<path d="M390.0,443.4 L395.5,444.8 L394.3,447.1 Z" fill="#000"/>
<text transform="translate(433.8 429.4) scale(1.09 1)" font-size="16.9">15</text>
<path d="M438.3,414.4 L418.6,390.8" fill="none" stroke="#000" stroke-width="0.9"/>
<path d="M438.3,414.4 L435.5,390.8" fill="none" stroke="#000" stroke-width="0.9"/>
<text transform="translate(458.8 404.6) scale(1.09 1)" font-size="16.9">16</text>
<path d="M467.6,391.4 L456.7,379" fill="none" stroke="#000" stroke-width="0.9"/>
<path d="M456.7,379.0 L461.3,382.3 L459.4,384.0 Z" fill="#000"/>
<text transform="translate(447.4 340.5) scale(1.09 1)" font-size="16.9">17</text>
<path d="M447,331.7 L444,315.8" fill="none" stroke="#000" stroke-width="0.9"/>
<text transform="translate(476 277.9) scale(1.09 1)" font-size="16.9">18</text>
<path d="M486.6,263 L478,250.4" fill="none" stroke="#000" stroke-width="0.9"/>
<path d="M478.0,250.4 L482.2,254.2 L480.0,255.7 Z" fill="#000"/>
<text transform="translate(439.4 257.1) scale(1.09 1)" font-size="16.9">19</text>
<path d="M440,251.6 L431.4,246.4" fill="none" stroke="#000" stroke-width="0.9"/>
<path d="M431.4,246.4 L436.8,248.1 L435.4,250.4 Z" fill="#000"/>
<text transform="translate(404.4 176.6) scale(1.09 1)" font-size="16.9">20</text>
<path d="M420.6,177.4 L432,184.4" fill="none" stroke="#000" stroke-width="0.9"/>
<path d="M432.0,184.4 L426.6,182.6 L428.0,180.4 Z" fill="#000"/>
<text transform="translate(518.4 205.7) scale(1.09 1)" font-size="16.9">21</text>
<path d="M519,199.4 L509.4,191.8" fill="none" stroke="#000" stroke-width="0.9"/>
<path d="M509.4,191.8 L514.5,194.2 L512.9,196.2 Z" fill="#000"/>
<text transform="translate(558.2 194.1) scale(1.09 1)" font-size="16.9">22</text>
<path d="M562,197.4 L569.7,197.4 L578.4,205" fill="none" stroke="#000" stroke-width="0.9"/>
<path d="M578.4,205.0 L573.4,202.4 L575.1,200.4 Z" fill="#000"/>
<text transform="translate(496.4 309.1) scale(1.09 1)" font-size="16.9">23</text>
<text transform="translate(519.4 317.6) scale(1.09 1)" font-size="16.9">24</text>
<text transform="translate(543.9 309.6) scale(1.09 1)" font-size="16.9">25</text>
<text transform="translate(545 326.5) scale(1.09 1)" font-size="16.9">26</text>
<path d="M545,330 L552,330 L558.8,341" fill="none" stroke="#000" stroke-width="0.9"/>
<path d="M558.8,341.0 L554.8,337.0 L557.0,335.6 Z" fill="#000"/>
<text transform="translate(496.4 340.7) scale(1.09 1)" font-size="16.9">27</text>
<path d="M514,340 L522.7,347.8" fill="none" stroke="#000" stroke-width="0.9"/>
<path d="M522.7,347.8 L517.7,345.1 L519.5,343.2 Z" fill="#000"/>
<text transform="translate(485.4 435.1) scale(1.09 1)" font-size="16.9">28</text>
<path d="M503,423 L514,397" fill="none" stroke="#000" stroke-width="0.9"/>
<text transform="translate(516.7 437.9) scale(1.09 1)" font-size="16.9">29</text>
<path d="M536.4,428.6 L545.8,393.6" fill="none" stroke="#000" stroke-width="0.9"/>
<text transform="translate(555 422.1) scale(1.09 1)" font-size="16.9">30</text>
<path d="M568.8,410 L576.4,391.4" fill="none" stroke="#000" stroke-width="0.9"/>
<text transform="translate(566 440.1) scale(1.09 1)" font-size="16.9">31</text>
<path d="M568.8,442.4 L581.9,442.4 L619,426.4" fill="none" stroke="#000" stroke-width="0.9"/>
<text transform="translate(548.9 467.6) scale(1.09 1)" font-size="16.9">32</text>
<path d="M568.4,463.2 L599.2,464" fill="none" stroke="#000" stroke-width="0.9"/>
<path d="M599.2,464.0 L593.7,465.2 L593.7,462.6 Z" fill="#000"/>
<text transform="translate(561.9 518.5) scale(1.09 1)" font-size="16.9">33</text>
<path d="M583,513 L638.3,510.8" fill="none" stroke="#000" stroke-width="0.9"/>
<path d="M638.3,510.8 L632.9,512.3 L632.8,509.7 Z" fill="#000"/>
<text transform="translate(691 468.1) scale(1.09 1)" font-size="16.9">34</text>
<path d="M708.6,470 L691.6,470 L660.8,484.8" fill="none" stroke="#000" stroke-width="0.9"/>
<text transform="translate(691 439.1) scale(1.09 1)" font-size="16.9">35</text>
<path d="M708.6,441.4 L695,441.4 L658.4,467.5" fill="none" stroke="#000" stroke-width="0.9"/>
<path d="M658.4,467.5 L662.1,463.2 L663.6,465.4 Z" fill="#000"/></g>
<rect x="0" y="0" width="854" height="1.6" fill="#b4b4b4"/>
<rect x="0" y="0" width="1.3" height="549" fill="#a4a4a4"/>
<rect x="0" y="547.6" width="848" height="1.4" fill="#c4c4c4"/>
</svg>
</body></html>
